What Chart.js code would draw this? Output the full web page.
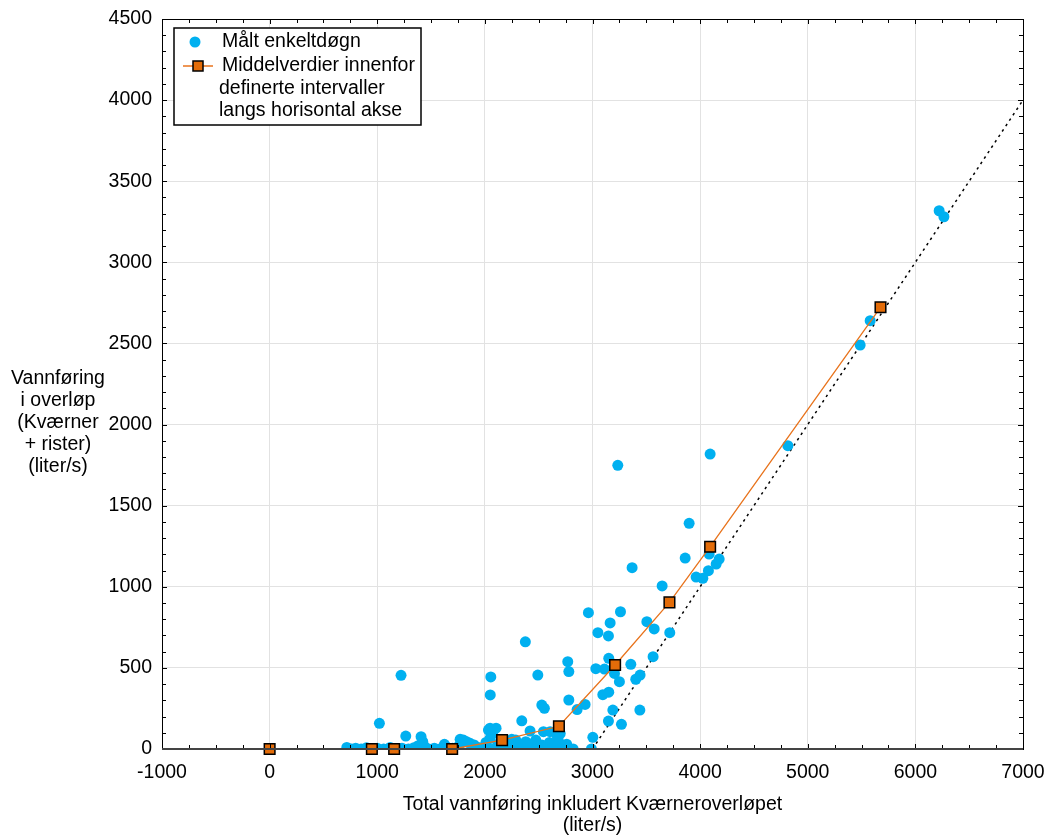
<!DOCTYPE html>
<html><head><meta charset="utf-8">
<script src="https://cdn.jsdelivr.net/npm/chart.js@4.4.1/dist/chart.umd.min.js"></script>
<style>html,body{margin:0;padding:0;background:#fff}#wrap{width:1045px;height:835px}</style>
</head><body><div id="wrap"><canvas id="c" width="1045" height="835"></canvas></div>
<script>
// ---- data ----
const xMin = -1000, xMax = 7000, xStep = 1000;
const yMin = 0, yMax = 4500, yStep = 500;
const measuredX = [6221,6265,5580,5487,4815,4093,3235,3898,3861,3647,4084,4177,4149,4077,3963,4025,3368,2962,3260,3164,3050,3148,3505,3573,3718,2770,3151,2780,3356,3111,3204,3250,3563,3402,3442,3096,3151,3189,3440,3148,3269,3031,3003,2990,2931,2857,2780,2674,2683,2700,2606,2544,2553,2529,2492,2376,2343,2420,2473,2287,2250,2104,2048,2033,2070,2048,2010,2055,2050,1221,1020,1265,1407,1423,1624,1770,1800,1862,1830,1900,2120,2180,2320,2380,2450,2530,2600,2650,2760,2740,717,760,800,850,900,960,1000,1060,1120,1180,1230,1290,1340,1380,1440,1480,1530,1580,1650,1700,1730,1760,1940,1980,2020,2090,2150,2210,2270,2360,2410,2480,2560,2620,2700,2790,2820];
const measuredY = [3318,3281,2640,2490,1870,1818,1749,1391,1177,1005,1202,1171,1140,1099,1060,1052,1118,840,846,777,717,697,785,740,717,538,559,477,522,493,466,415,569,430,456,335,350,240,240,172,152,495,72,0,275,243,302,76,51,95,107,107,251,271,456,661,174,111,55,55,60,128,128,117,95,66,40,444,333,454,158,80,76,45,29,60,55,35,45,25,30,20,30,45,35,25,40,20,30,10,10,0,5,0,8,0,5,0,10,0,5,0,8,20,15,0,5,0,10,5,0,20,10,0,15,0,10,0,15,0,10,0,10,0,0,0,0];
const meanX = [0,950,1157,1696,2160,2688,3210,3715,4093,5676];
const meanY = [0,0,0,0,55,140,518,904,1247,2723];
const refLineX = [3000,7000];
const refLineY = [0,4000];
const legendLabels = [["Målt enkeltdøgn"],["Middelverdier innenfor","definerte intervaller","langs horisontal akse"]];
const yTitleLines = ["Vannføring","i overløp","(Kværner","+ rister)","(liter/s)"];
const xTitleLines = ["Total vannføring inkludert Kværneroverløpet","(liter/s)"];

const BLUE = '#00B0F0', ORANGE = '#E8731C', SQ = '#E36C09';
const FONT = '"Liberation Sans", Arial, sans-serif';
const FS = 19.5;

const toPts = (xs, ys) => xs.map((x,i)=>({x, y: ys[i]}));

const decor = {
  id: 'decor',
  afterDatasetsDraw(chart) {
    const {ctx, chartArea: a, scales: {x, y}} = chart;
    ctx.save();
    ctx.strokeStyle = '#000'; ctx.lineWidth = 1;
    ctx.beginPath();
    for (let v = xMin; v <= xMax; v += xStep/4) {
      const px = Math.round(x.getPixelForValue(v)) + 0.5;
      const len = (v % xStep === 0) ? 5 : 4;
      ctx.moveTo(px, a.bottom); ctx.lineTo(px, a.bottom - len);
      ctx.moveTo(px, a.top); ctx.lineTo(px, a.top + len);
    }
    for (let v = yMin; v <= yMax; v += yStep/5) {
      const py = Math.round(y.getPixelForValue(v)) + 0.5;
      const len = (v % yStep === 0) ? 5 : 4;
      ctx.moveTo(a.left, py); ctx.lineTo(a.left + len, py);
      ctx.moveTo(a.right, py); ctx.lineTo(a.right - len, py);
    }
    ctx.stroke();
    ctx.lineWidth = 1; ctx.strokeStyle = '#000';
    ctx.strokeRect(Math.round(a.left)+0.5, Math.round(a.top)+0.5, Math.round(a.right-a.left), Math.round(a.bottom-a.top));
    ctx.lineWidth = 2; ctx.strokeStyle = '#444';
    ctx.beginPath(); ctx.moveTo(a.left, Math.round(a.bottom)); ctx.lineTo(a.right, Math.round(a.bottom)); ctx.stroke();

    // legend
    const lx = a.left + 12, ly = a.top + 9, lw = 247, lh = 97;
    ctx.fillStyle = '#fff'; ctx.fillRect(lx, ly, lw, lh);
    ctx.strokeStyle = '#000'; ctx.lineWidth = 1.5; ctx.strokeRect(lx, ly, lw, lh);
    ctx.font = FS + 'px ' + FONT; ctx.fillStyle = '#000'; ctx.textBaseline = 'middle'; ctx.textAlign = 'left';
    ctx.fillStyle = BLUE; ctx.beginPath(); ctx.arc(lx + 21, ly + 14, 5.5, 0, Math.PI*2); ctx.fill();
    ctx.fillStyle = '#000'; ctx.fillText(legendLabels[0][0], lx + 48, ly + 14);
    ctx.strokeStyle = ORANGE; ctx.lineWidth = 1.5;
    ctx.beginPath(); ctx.moveTo(lx + 9, ly + 38); ctx.lineTo(lx + 39, ly + 38); ctx.stroke();
    ctx.fillStyle = SQ; ctx.fillRect(lx + 19, ly + 33, 10, 10);
    ctx.strokeStyle = '#000'; ctx.lineWidth = 1.5; ctx.strokeRect(lx + 19, ly + 33, 10, 10);
    ctx.fillStyle = '#000';
    ctx.fillText(legendLabels[1][0], lx + 48, ly + 38);
    ctx.fillText(legendLabels[1][1], lx + 45, ly + 61);
    ctx.fillText(legendLabels[1][2], lx + 45, ly + 83);

    ctx.textAlign = 'center';
    yTitleLines.forEach((t, i) => ctx.fillText(t, 58, 379 + i * 21.8));
    const cx = (a.left + a.right) / 2;
    xTitleLines.forEach((t, i) => ctx.fillText(t, cx, a.bottom + 56 + i * 21));
    ctx.restore();
  }
};

new Chart(document.getElementById('c'), {
  type: 'scatter',
  data: {
    datasets: [
      {
        type: 'line', label: 'mean', data: toPts(meanX, meanY), order: 0,
        borderColor: ORANGE, borderWidth: 1.3, pointStyle: 'rect', pointRadius: 7.5,
        pointBackgroundColor: SQ, pointBorderColor: '#000', pointBorderWidth: 1.5,
        tension: 0, clip: 8
      },
      {
        label: 'measured', data: toPts(measuredX, measuredY), order: 1,
        backgroundColor: BLUE, borderColor: BLUE, borderWidth: 0, pointRadius: 5.5
      },
      {
        type: 'line', label: 'ref', data: toPts(refLineX, refLineY), order: 2,
        borderColor: '#000', borderWidth: 1.5, borderDash: [2.5, 4], pointRadius: 0
      }
    ]
  },
  options: {
    responsive: false, animation: false, devicePixelRatio: 1,
    layout: { padding: { left: 0, right: 22, top: 19, bottom: 0 } },
    plugins: { legend: { display: false }, tooltip: { enabled: false } },
    scales: {
      x: {
        type: 'linear', min: xMin, max: xMax,
        afterFit(s) { s.height = 86; s.paddingRight = 0; s.paddingLeft = 0; },
        ticks: { stepSize: xStep, padding: 12, color: '#000', font: { size: FS, family: FONT }, maxRotation: 0, callback: v => String(v) },
        grid: { color: '#e2e2e2', drawTicks: false }, border: { display: false }
      },
      y: {
        type: 'linear', min: yMin, max: yMax,
        afterFit(s) { s.width = 162; s.paddingTop = 0; s.paddingBottom = 0; },
        ticks: { stepSize: yStep, padding: 10, color: '#000', font: { size: FS, family: FONT }, callback: v => String(v) },
        grid: { color: '#e2e2e2', drawTicks: false }, border: { display: false }
      }
    }
  },
  plugins: [decor]
});
</script></body></html>
